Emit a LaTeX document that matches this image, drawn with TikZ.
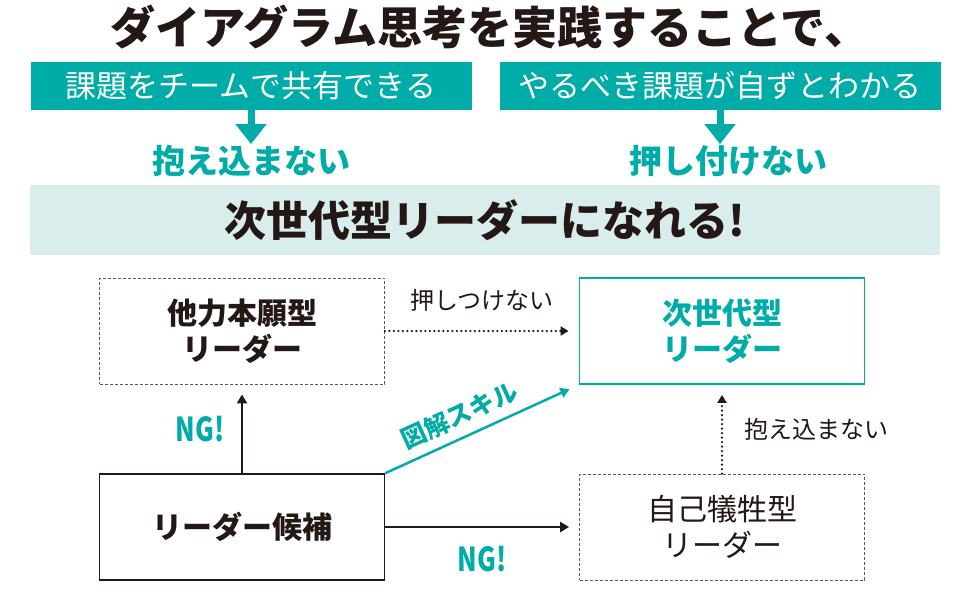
\documentclass[tikz,border=0pt]{standalone}
\usepackage{fontspec}
\setmainfont{Noto Sans CJK JP}
\newfontfamily\ngfont{Noto Sans CJK JP}[FakeStretch=0.78]
\usepackage{xcolor}
\usetikzlibrary{arrows.meta, positioning}
\definecolor{teal0}{RGB}{0,172,167}
\definecolor{band}{RGB}{217,238,236}
\definecolor{ink}{RGB}{35,24,21}

\begin{document}
\begin{tikzpicture}[x=1pt, y=-1pt, text=ink,
  topbox/.style={fill=teal0, text=white, minimum width=441pt, minimum height=48pt,
    inner sep=0pt, font=\fontsize{31}{31}\selectfont},
  result/.style={text=teal0, inner sep=1pt, font=\fontsize{33}{33}\selectfont\bfseries},
  fatarrow/.style={teal0, line width=7pt, -{Triangle[length=20pt, width=30pt]}},
  box/.style={minimum width=285pt, minimum height=106pt, inner sep=0pt, align=center,
    font=\fontsize{30}{36}\selectfont\bfseries},
  dashbox/.style={box, draw=gray!70!black, line width=0.8pt, dash pattern=on 3pt off 2pt},
  nextbox/.style={box, draw=teal0, text=teal0, line width=1.8pt},
  solidbox/.style={box, draw=ink, line width=1.5pt},
  solidarrow/.style={ink, line width=2.5pt, shorten >=10pt, -{Triangle[length=9pt, width=10pt]}},
  dotarrow/.style={ink, line width=2.5pt, line cap=round, dash pattern=on 0pt off 4.5pt,
    shorten >=10pt, -{Triangle[length=8pt, width=9pt]}},
  tealarrow/.style={teal0, line width=2.5pt, shorten >=10pt, -{Triangle[length=9pt, width=10pt]}},
  note/.style={inner sep=1pt, font=\fontsize{24}{24}\selectfont},
  ng/.style={text=teal0, inner sep=1pt, font=\fontsize{33}{33}\selectfont\ngfont\bfseries},
  skill/.style={text=teal0, inner sep=1pt, font=\fontsize{25}{25}\selectfont\bfseries}]
  \useasboundingbox (0,0) rectangle (970,600);

  % Headline
  \node[font=\fontsize{45}{48}\selectfont\bfseries] (title) at (490,27) {ダイアグラム思考を実践することで、};

  % Two teal boxes with what they lead to
  \node[topbox] (share) at (251,86) {課題をチームで共有できる};
  \node[topbox] (clear) at (720,86) {やるべき課題が自ずとわかる};
  \node[result] (noHold) at (251,161) {抱え込まない};
  \node[result] (noPush) at (728,161) {押し付けない};
  \draw[fatarrow] (share.south) -- (noHold.north);
  \draw[fatarrow] (clear.south) -- (clear.south |- noPush.north);

  % Goal band
  \node[fill=band, minimum width=910pt, minimum height=70pt, inner sep=0pt,
    font=\fontsize{42}{42}\selectfont\bfseries] (goal) at (485,220) {次世代型リーダーになれる!};

  % Leader types
  \node[dashbox] (other) at (242,331) {他力本願型\\リーダー};
  \node[nextbox] (next) at (722,331) {次世代型\\リーダー};
  \node[solidbox] (cand) at (242,527) {リーダー候補};
  \node[dashbox, font=\fontsize{30}{36}\selectfont] (self) at (722,527) {自己犠牲型\\リーダー};

  % Paths between them
  \draw[dotarrow] (other.east) -- (next.west) node[midway, above=17pt, note] {押しつけない};
  \draw[solidarrow] (cand.north) -- (other.south) node[midway, left=15pt, ng] {NG!};
  \draw[solidarrow] (cand.east) -- (self.west) node[midway, below=17pt, ng] {NG!};
  \draw[dotarrow] (self.north) -- (next.south) node[midway, right=20pt, note] {抱え込まない};
  \draw[tealarrow] (cand.north east) -- (next.south west)
    node[pos=0.43, sloped, above=8pt, skill] {図解スキル};
\end{tikzpicture}
\end{document}
